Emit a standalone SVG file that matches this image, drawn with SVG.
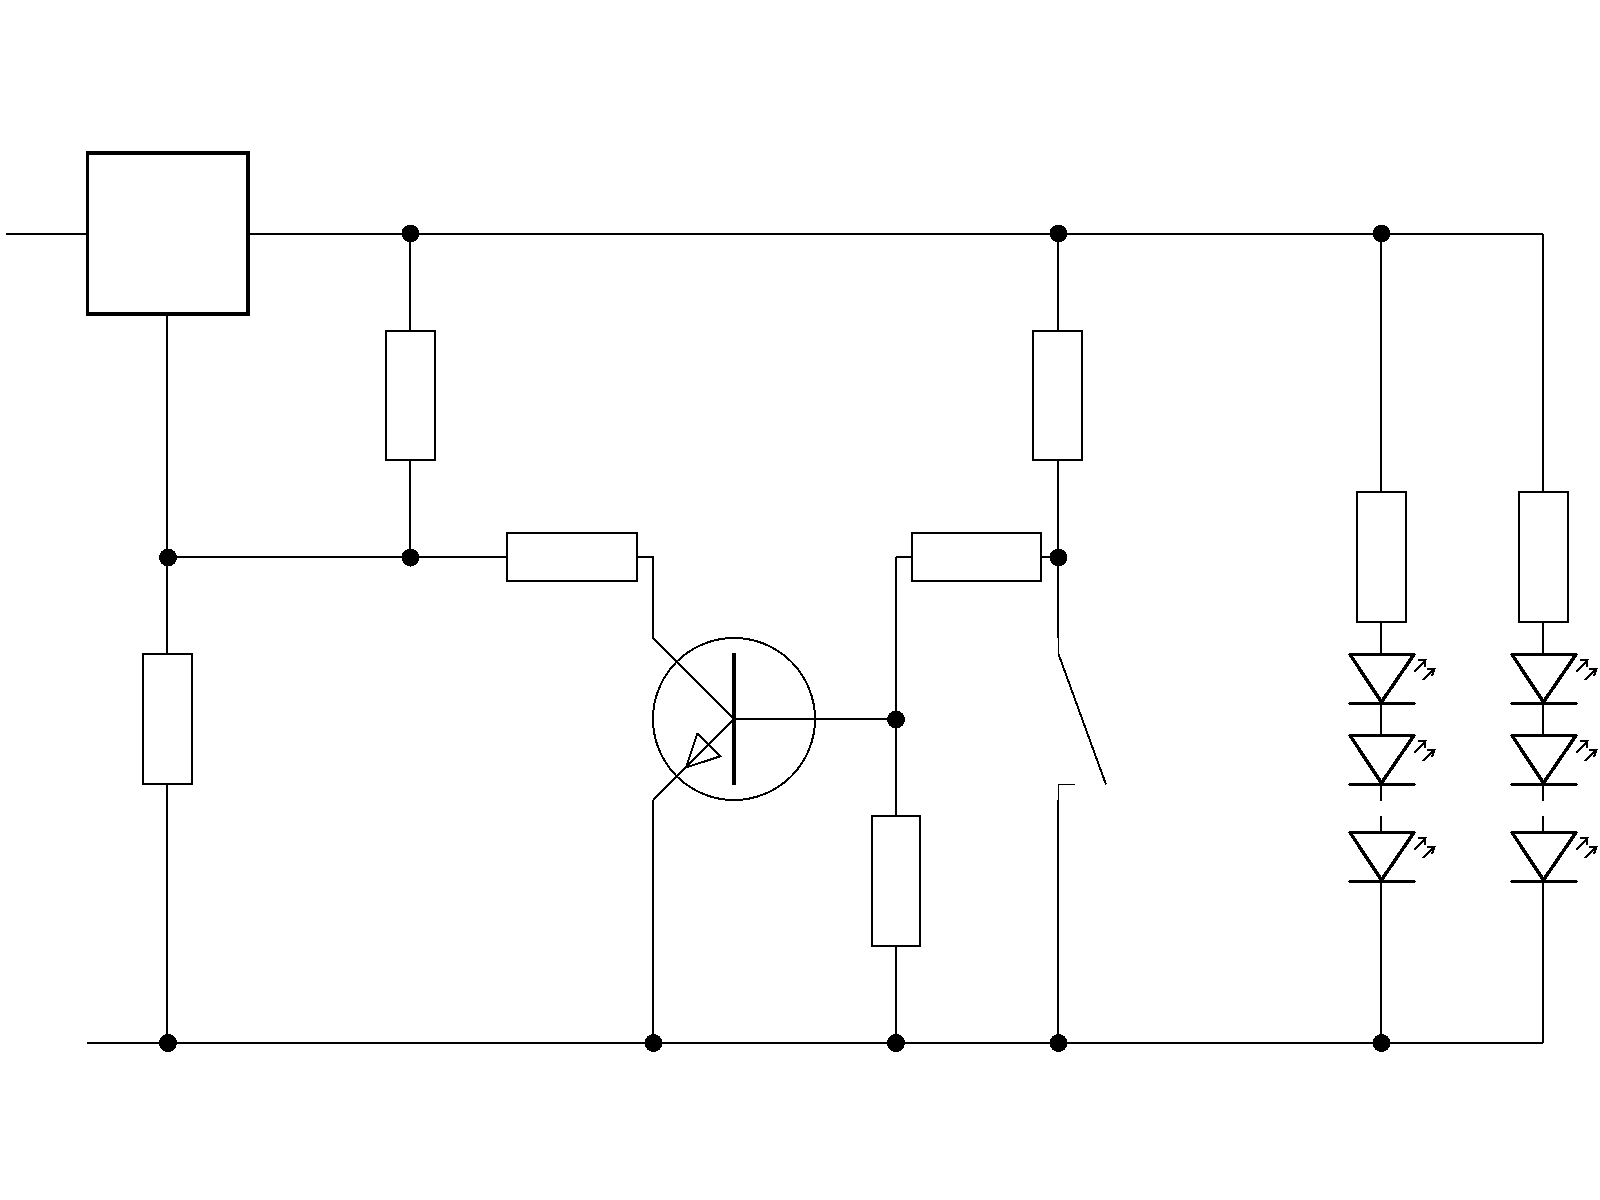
<svg xmlns="http://www.w3.org/2000/svg" xmlns:xlink="http://www.w3.org/1999/xlink" width="1600" height="1200" viewBox="0 0 1600 1200" shape-rendering="crispEdges">
<style>
.w{fill:none;stroke:#000;stroke-width:2}
.d{fill:none;stroke:#000;stroke-width:2}
.t{fill:none;stroke:#000;stroke-width:1}
.r{fill:#fff;stroke:#000;stroke-width:2}
.j{fill:#000}
.led{fill:none;stroke:#000;stroke-width:3.500;stroke-linejoin:round;stroke-linecap:round}
.a{fill:none;stroke:#000;stroke-width:2}
</style>
<defs>
<g id="ledshape">
<path class="led" d="M-31 0H33M-31 0L0.500 47.500L33 0M-31 49H33"/>
<path class="a" d="M33 17.500L44.500 6M37 6L44.500 5.500L43.500 13"/>
<path class="a" d="M41.500 25.500L53.500 14.500M46 14L53.500 14L51 21.500"/>
</g>
</defs>
<rect width="1600" height="1200" fill="#fff"/>
<g id="connectors">
<path class="w" d="M6 233.500H87M248 233.500H1543M87 1043H1543"/>
<path class="w" d="M167 314V1043M410 233.500V557M167 557H507M637 557H653V638M653 800V1043"/>
<path class="d" d="M653 638L734 719L653 800"/>
<path class="w" d="M734 719H896M896 557V1043M896 557H912M1041 557H1058M1058 233.500V638"/>
<path class="w" d="M1058 800V1043"/>
<path class="t" d="M1058.500 638V654"/>
<path class="t" d="M1058.500 800V784.500H1075"/>
<path class="d" d="M1058.500 654L1106 784.500"/>
<path class="w" d="M1381 233.500V492M1381 622V654M1381 703V736M1381 784V801M1381 816V832M1381 882V1043"/>
<path class="w" d="M1543 233.500V492M1543 622V654M1543 703V736M1543 784V801M1543 816V832M1543 882V1043"/>
</g>
<g id="regulator"><rect x="87.500" y="153" width="160.500" height="161" fill="#fff" stroke="#000" stroke-width="3.500"/></g>
<g id="r1"><rect class="r" x="386" y="331" width="49" height="129"/></g>
<g id="r2"><rect class="r" x="507" y="533" width="130" height="48"/></g>
<g id="r3"><rect class="r" x="143" y="654" width="49" height="130"/></g>
<g id="r4"><rect class="r" x="912" y="533" width="129" height="48"/></g>
<g id="r5"><rect class="r" x="1033" y="331" width="49" height="129"/></g>
<g id="r6"><rect class="r" x="872" y="816" width="48" height="130"/></g>
<g id="r7"><rect class="r" x="1357" y="492" width="49" height="130"/></g>
<g id="r8"><rect class="r" x="1519" y="492" width="49" height="130"/></g>
<g id="transistor">
<circle cx="734" cy="719" r="81" fill="none" stroke="#000" stroke-width="2"/>
<path d="M734 653V785" fill="none" stroke="#000" stroke-width="4"/>
<path d="M686 767.500L697.300 733.700L720.300 756.300Z" fill="none" stroke="#000" stroke-width="2"/>
</g>
<g id="led1"><use xlink:href="#ledshape" x="1381" y="654.500"/></g>
<g id="led2"><use xlink:href="#ledshape" x="1381" y="735.500"/></g>
<g id="led3"><use xlink:href="#ledshape" x="1381" y="832.500"/></g>
<g id="led4"><use xlink:href="#ledshape" x="1543" y="654.500"/></g>
<g id="led5"><use xlink:href="#ledshape" x="1543" y="735.500"/></g>
<g id="led6"><use xlink:href="#ledshape" x="1543" y="832.500"/></g>
<g id="junctions">
<circle class="j" cx="410.500" cy="233.500" r="9"/>
<circle class="j" cx="1058.500" cy="233.500" r="9"/>
<circle class="j" cx="1381.500" cy="233.500" r="9"/>
<circle class="j" cx="168" cy="557.500" r="9"/>
<circle class="j" cx="410.500" cy="557.500" r="9"/>
<circle class="j" cx="1058.500" cy="557.500" r="9"/>
<circle class="j" cx="896" cy="719.500" r="9"/>
<circle class="j" cx="168" cy="1043" r="9"/>
<circle class="j" cx="653.500" cy="1043" r="9"/>
<circle class="j" cx="896" cy="1043" r="9"/>
<circle class="j" cx="1058.500" cy="1043" r="9"/>
<circle class="j" cx="1381.500" cy="1043" r="9"/>
</g>
</svg>
